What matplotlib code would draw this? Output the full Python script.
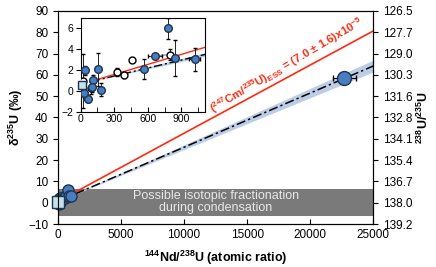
import numpy as np
import matplotlib
matplotlib.use("Agg")
import matplotlib.pyplot as plt

plt.rcParams['font.family'] = ['Liberation Sans', 'DejaVu Sans']
plt.rcParams['mathtext.fontset'] = 'custom'
plt.rcParams['mathtext.rm'] = 'Liberation Sans'
plt.rcParams['mathtext.bf'] = 'Liberation Sans:bold'
plt.rcParams['mathtext.it'] = 'Liberation Sans:italic'

# inset data (Nd/U, delta235U, errors)
blue_x = [41, 158, 113, 180, 68, 32, 100, 563, 665, 778, 847, 1020]
blue_y = [1.95, 2.05, 1.05, 0.1, -0.75, -0.2, 0.4, 2.1, 3.35, 6.0, 3.15, 3.0]
blue_yerr = [0.4, 1.6, 0.5, 0.6, 0.3, 0.4, 0.5, 0.95, 0.2, 1.0, 1.7, 1.1]
blue_xerr = [5, 10, 10, 10, 5, 5, 5, 10, 60, 10, 20, 50]
open_x = [329, 389, 458, 802, 95, 20]
open_y = [1.8, 1.5, 2.95, 3.45, 0.25, 0.9]
open_yerr = [0.4, 0.3, 0.0, 0.5, 0.6, 2.6]
square_x = [10]
square_y = [0.55]

# high Nd/U sample
far_x = [22700]
far_y = [58.5]
far_xerr = [900]
far_yerr = [1.0]

# regression lines
red_a, red_b = 0.6, 0.0032
blk_a, blk_b = 0.65, 0.00254
band_b = 0.00011

yticks = [-10, 0, 10, 20, 30, 40, 50, 60, 70, 80, 90]
right_labels = ['139.2', '138.0', '136.7', '135.4', '134.1', '132.8',
                '131.6', '130.3', '129.0', '127.7', '126.5']

blue = '#4a7dbf'
edge = '#1c3552'
red = '#ff2a10'

fig = plt.figure(figsize=(4.36, 2.67), dpi=100)
ax = fig.add_axes([0.133, 0.161, 0.723, 0.798])

ax.axhspan(-6.1, 6.3, color='#7a7a7a', lw=0, zorder=0)
ax.text(12500, 0.2, 'Possible isotopic fractionation\nduring condensation',
        ha='center', va='center', color='#e8e8e8', fontsize=9, linespacing=1.0)

xx = np.linspace(100, 25000, 200)
ax.fill_between(xx, blk_a + blk_b * xx - band_b * xx, blk_a + blk_b * xx + band_b * xx,
                color='#bccde6', lw=0, zorder=1)
ax.plot(xx, blk_a + blk_b * xx, color='k', ls=(0, (6, 2, 1.5, 2)), lw=1.1, zorder=2)
ax.plot(xx, red_a + red_b * xx, color=red, lw=1.2, zorder=2)

ax.errorbar(blue_x, blue_y, yerr=blue_yerr, fmt='o', ms=8, mfc=blue, mec=edge,
            ecolor='k', elinewidth=0.7, zorder=4, clip_on=False)
ax.plot(square_x, square_y, 's', ms=9, mfc='#c3e2ea', mec=edge, zorder=5, clip_on=False)
ax.errorbar(far_x, far_y, xerr=far_xerr, yerr=far_yerr, fmt='o', ms=10, mfc=blue,
            mec=edge, ecolor='k', elinewidth=0.8, capsize=2, zorder=4)

ax.text(18150, 64.3,
        r'($^{\mathbf{247}}$Cm/$^{\mathbf{235}}$U)$_{\mathbf{ESS}}$ = (7.0 $\mathbf{\pm}$ 1.6)x10$^{\mathbf{-5}}$',
        color=red, fontsize=8.2, fontweight='bold', rotation=30.5,
        ha='center', va='center', rotation_mode='anchor')

ax.set_xlim(0, 25000)
ax.set_ylim(-10, 90)
ax.set_xticks([0, 5000, 10000, 15000, 20000, 25000])
ax.set_yticks(yticks)
ax.tick_params(axis='x', direction='in', labelsize=8.5)
ax.tick_params(axis='y', direction='out', labelsize=8.5)
ax.set_xlabel(r'$^{\mathbf{144}}$Nd/$^{\mathbf{238}}$U (atomic ratio)', fontsize=9,
              fontweight='bold', labelpad=6)
ax.set_ylabel(r'$\mathbf{\delta^{235}}$U (‰)', fontsize=9, fontweight='bold', labelpad=2)

ax2 = ax.twinx()
ax2.set_ylim(-10, 90)
ax2.set_yticks(yticks)
ax2.set_yticklabels(right_labels)
ax2.tick_params(axis='y', labelsize=8.5)
ax2.set_ylabel(r'$^{\mathbf{238}}$U/$^{\mathbf{235}}$U', fontsize=9, fontweight='bold',
               rotation=90, labelpad=2)

# inset
ins = fig.add_axes([0.185, 0.582, 0.285, 0.352])
xi = np.linspace(100, 1120, 50)
ins.fill_between(xi, blk_a + blk_b * xi - band_b * xi * 1.5, blk_a + blk_b * xi + band_b * xi * 1.5,
                 color='#bccde6', lw=0, zorder=1)
ins.plot(xi, blk_a + blk_b * xi, color='k', ls=(0, (6, 2, 1.5, 2)), lw=1.0, zorder=2)
ins.plot(xi, red_a + red_b * xi, color=red, lw=1.0, zorder=2)
ins.plot([665, 802], [3.35, 3.45], color='#888888', lw=0.8, zorder=2)
ins.errorbar(open_x, open_y, yerr=open_yerr, fmt='o', ms=5, mfc='white', mec='k',
             ecolor='k', elinewidth=0.6, capsize=1.5, zorder=3)
ins.errorbar(blue_x, blue_y, xerr=blue_xerr, yerr=blue_yerr, fmt='o', ms=5.5, mfc=blue,
             mec=edge, ecolor='k', elinewidth=0.6, capsize=1.5, zorder=4)
ins.plot(square_x, square_y, 's', ms=6, mfc='#c3e2ea', mec=edge, zorder=5, clip_on=False)
ins.set_xlim(0, 1110)
ins.set_ylim(-2, 7)
ins.set_xticks([0, 300, 600, 900])
ins.set_xticks(np.arange(150, 1110, 300), minor=True)
ins.set_yticks([-2, 0, 2, 4, 6])
ins.tick_params(axis='x', which='both', direction='in', labelsize=7.5, pad=2)
ins.tick_params(axis='x', which='minor', length=3.5)
ins.tick_params(axis='y', labelsize=7.5, pad=1.5)

fig.savefig('out.png', dpi=100)
